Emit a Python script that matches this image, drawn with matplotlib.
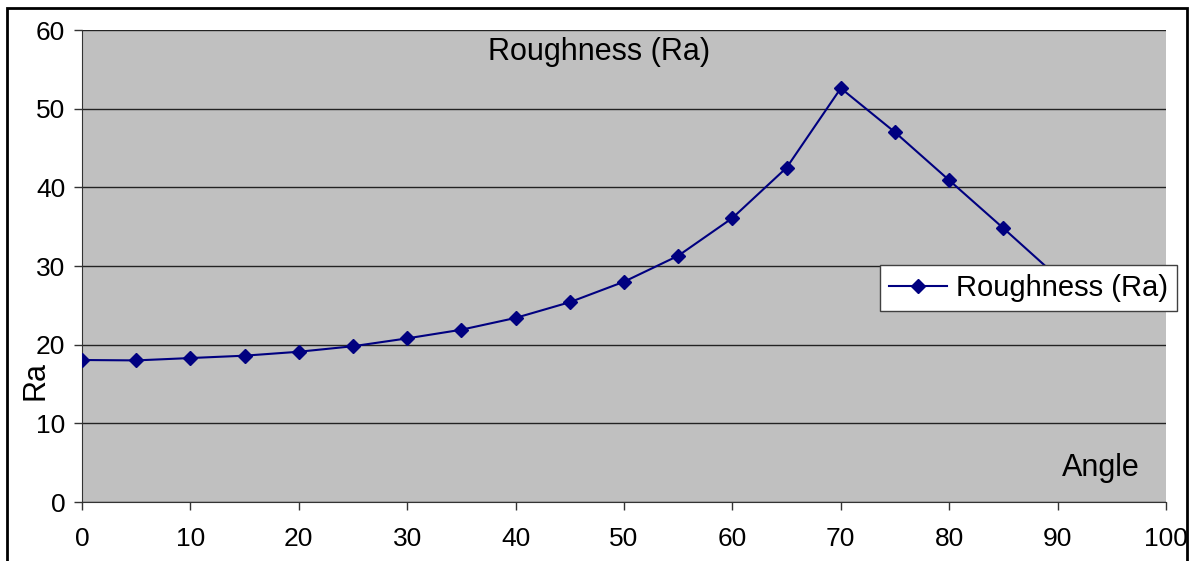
import matplotlib
matplotlib.use('Agg')
import matplotlib.pyplot as plt
from matplotlib.patches import Rectangle

plt.rcParams['font.family'] = ['Liberation Sans', 'DejaVu Sans']

# Data
angles = [0, 5, 10, 15, 20, 25, 30, 35, 40, 45, 50, 55, 60, 65, 70, 75, 80, 85, 90]
ra = [18.05, 18.0, 18.3, 18.6, 19.1, 19.8, 20.8, 21.9, 23.4, 25.4, 28.0,
      31.3, 36.1, 42.5, 52.6, 47.0, 40.9, 34.8, 28.6]
x_ticks = [0, 10, 20, 30, 40, 50, 60, 70, 80, 90, 100]
y_ticks = [0, 10, 20, 30, 40, 50, 60]

fig = plt.figure(figsize=(12, 5.61), dpi=100)
ax = fig.add_axes([82 / 1200, 1 - 502 / 561, (1166 - 82) / 1200, (502 - 30) / 561])
ax.set_facecolor('#c0c0c0')

ax.plot(angles, ra, color='#000080', lw=1.5, marker='D', markersize=7,
        label='Roughness (Ra)', zorder=3)

ax.set_xlim(0, 100)
ax.set_ylim(0, 60)
ax.set_xticks(x_ticks)
ax.set_yticks(y_ticks)
ax.tick_params(labelsize=19, direction='out', length=6, width=1, color='#333333')
ax.tick_params(axis='x', pad=12)
ax.tick_params(axis='y', pad=6)
for s in ['top', 'right']:
    ax.spines[s].set_visible(False)
for s in ['left', 'bottom']:
    ax.spines[s].set_color('#333333')
ax.yaxis.grid(True, color='#222222', lw=1)
ax.set_axisbelow(True)

ax.text(0.477, 0.985, 'Roughness (Ra)', transform=ax.transAxes, ha='center', va='top', fontsize=22)
ax.text(0.94, 0.072, 'Angle', transform=ax.transAxes, ha='center', va='center', fontsize=22)
fig.text(36 / 1200, 1 - 380 / 561, 'Ra', rotation=90, ha='center', va='center', fontsize=22)

leg = ax.legend(loc='upper left', bbox_to_anchor=(880 / 1200, 1 - 265 / 561),
                bbox_transform=fig.transFigure, fontsize=21, frameon=True,
                fancybox=False, framealpha=1, edgecolor='#404040',
                borderpad=0.3, handlelength=2.0, handletextpad=0.3,
                borderaxespad=0)
leg.get_frame().set_linewidth(1)

fig.patches.append(Rectangle((7 / 1200, -0.1), 1180 / 1200, 1.1 - 8 / 561,
                             transform=fig.transFigure, fill=False,
                             edgecolor='black', lw=2))

fig.savefig('out.png', dpi=100)
